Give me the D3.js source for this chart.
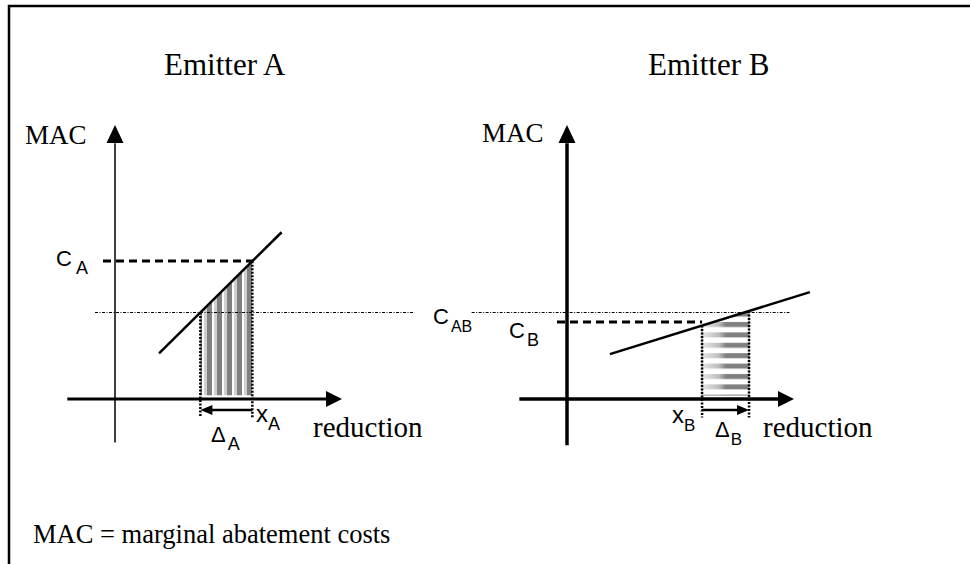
<!DOCTYPE html>
<html>
<head>
<meta charset="utf-8">
<script src="https://cdn.jsdelivr.net/npm/d3@7"></script>
<style>
body { margin: 0; background: #fff; }
</style>
</head>
<body>
<svg id="chart" width="970" height="564"></svg>
<script>
// values in abstract units (0..100 on both axes of each panel)
const panelNames = ["A", "B"];
const titles = ["Emitter A", "Emitter B"];
const xAxisExtent = [[-21, 100], [-21, 100]];
const yAxisExtent = [[-16, 100], [-17, 100]];
const macLines = [
    [[19.4, 16.8], [73.4, 61.3]],
    [[18.9, 16.5], [107, 39.3]]
];
const priceCommon = 31.8;          // C_AB
const priceOwn = [50.7, 28.3];     // C_A , C_B
const xPoints = [60.5, 59.5];      // x_A , x_B
const xShifted = [37.6, 80.2];     // x_A - delta_A , x_B + delta_B
const commonLine = [[-8.8, 132], [-42, 98]];
const ownDashStart = [-5.3, -4.4];

const serif = "'Liberation Serif', 'Times New Roman', serif";
const sans = "'Liberation Sans', Arial, sans-serif";

const svg = d3.select("#chart");
const defs = svg.append("defs");

// frame
svg.append("path")
    .attr("d", "M9,564 V6 H970")
    .attr("fill", "none")
    .attr("stroke", "#000")
    .attr("stroke-width", 2.5);

// stripe patterns
let pA = defs.append("pattern").attr("id", "stripesA")
    .attr("patternUnits", "userSpaceOnUse")
    .attr("x", 204).attr("y", 0).attr("width", 10).attr("height", 10);
pA.append("rect").attr("width", 10).attr("height", 10).attr("fill", "#fff");
pA.append("rect").attr("x", 0).attr("width", 3).attr("height", 10).attr("fill", "#d0d0d0");
pA.append("rect").attr("x", 3).attr("width", 5).attr("height", 10).attr("fill", "#808080");

let gB = defs.append("linearGradient").attr("id", "gradB")
    .attr("x1", 0).attr("x2", 1).attr("y1", 0).attr("y2", 0);
gB.append("stop").attr("offset", 0).attr("stop-color", "#e6e6e6");
gB.append("stop").attr("offset", 0.35).attr("stop-color", "#bdbdbd");
gB.append("stop").attr("offset", 0.5).attr("stop-color", "#808080");
gB.append("stop").attr("offset", 1).attr("stop-color", "#808080");

let pB = defs.append("pattern").attr("id", "stripesB")
    .attr("patternUnits", "userSpaceOnUse")
    .attr("x", 702).attr("y", 321).attr("width", 48).attr("height", 10.4);
pB.append("rect").attr("width", 48).attr("height", 10.4).attr("fill", "#fff");
pB.append("rect").attr("y", 1).attr("width", 48).attr("height", 5).attr("fill", "url(#gradB)");

function label(g, x, y, main, sub, size, subSize, font, gap) {
    let t = g.append("text").attr("x", x).attr("y", y)
        .attr("font-family", font).attr("font-size", size).attr("fill", "#000");
    t.append("tspan").text(main);
    if (sub) {
        t.append("tspan").attr("dx", gap || 0).attr("dy", 8).attr("font-size", subSize).text(sub);
    }
    return t;
}

const origins = [115, 567];
const axisW = [[3, 1.5], [3.5, 3.5]];

panelNames.forEach(function(name, i) {
    let x = d3.scaleLinear().domain([0, 100]).range([origins[i], origins[i] + 227]);
    let y = d3.scaleLinear().domain([0, 100]).range([399, 127]);
    let g = svg.append("g");
    let line = d3.line().x(d => x(d[0])).y(d => y(d[1]));

    // title
    g.append("text")
        .attr("x", x(0) + (i == 0 ? 49 : 81)).attr("y", 75)
        .attr("font-family", serif).attr("font-size", 31)
        .text(titles[i]);

    // shaded region under MAC line between xShifted and xPoints
    let m = macLines[i];
    let macAt = v => m[0][1] + (v - m[0][0]) * (m[1][1] - m[0][1]) / (m[1][0] - m[0][0]);
    let lo = Math.min(xPoints[i], xShifted[i]), hi = Math.max(xPoints[i], xShifted[i]);
    let bottom = 1.4;
    g.append("path")
        .attr("d", line([[lo, bottom], [lo, macAt(lo)], [hi, macAt(hi)], [hi, bottom]]) + "Z")
        .attr("fill", i == 0 ? "url(#stripesA)" : "url(#stripesB)")
        .attr("stroke", i == 0 ? "none" : "#9a9a9a")
        .attr("stroke-width", 1);

    // common price line C_AB (dash-dot, thin)
    g.append("path")
        .attr("d", line([[commonLine[i][0], priceCommon], [commonLine[i][1], priceCommon]]))
        .attr("stroke", "#000").attr("stroke-width", 1)
        .attr("stroke-dasharray", "3,1.5,1,1.5");

    // own price dashed line
    g.append("path")
        .attr("d", line([[ownDashStart[i], priceOwn[i]], [xPoints[i], priceOwn[i]]]))
        .attr("stroke", "#000").attr("stroke-width", 3)
        .attr("stroke-dasharray", "8,5");

    // dotted borders of the region
    [lo, hi].forEach(function(v) {
        g.append("path")
            .attr("d", line([[v, macAt(v)], [v, -6.8]]))
            .attr("stroke", "#000").attr("stroke-width", 2.5)
            .attr("stroke-dasharray", "2,1.5");
    });

    // axes
    g.append("path")
        .attr("d", line([[xAxisExtent[i][0], 0], [93, 0]]))
        .attr("stroke", "#000").attr("stroke-width", axisW[i][0]);
    g.append("path")
        .attr("d", `M${x(100)},${y(0)} L${x(100) - 16},${y(0) - 8} L${x(100) - 16},${y(0) + 8}Z`)
        .attr("fill", "#000");
    g.append("path")
        .attr("d", line([[0, yAxisExtent[i][0]], [0, 94]]))
        .attr("stroke", "#000").attr("stroke-width", axisW[i][1]);
    g.append("path")
        .attr("d", `M${x(0)},${y(100) - 2} L${x(0) - 8.5},${y(100) + 16} L${x(0) + 8.5},${y(100) + 16}Z`)
        .attr("fill", "#000");

    // MAC line
    g.append("path")
        .attr("d", line(m))
        .attr("stroke", "#000").attr("stroke-width", 2.5);

    // delta arrow under the axis
    let ay = y(-4);
    let x0 = x(xPoints[i]), x1 = x(xShifted[i]);
    let dir = x1 > x0 ? 1 : -1;
    g.append("path")
        .attr("d", `M${x0},${ay} L${x1 - dir * 8},${ay}`)
        .attr("stroke", "#000").attr("stroke-width", 2.5);
    g.append("path")
        .attr("d", `M${x1},${ay} L${x1 - dir * 12},${ay - 5} L${x1 - dir * 12},${ay + 5}Z`)
        .attr("fill", "#000");

    // axis titles
    g.append("text")
        .attr("x", x(0) - (i == 0 ? 90 : 85)).attr("y", i == 0 ? 144 : 142)
        .attr("font-family", serif).attr("font-size", 27)
        .text("MAC");
    g.append("text")
        .attr("x", x(100) + (i == 0 ? -29 : -31)).attr("y", 437)
        .attr("font-family", serif).attr("font-size", 29)
        .text("reduction");
});

// symbol labels
let lab = svg.append("g");
label(lab, 56, 266, "C", "A", 22, 18, sans, 4);
label(lab, 433, 324, "C", "AB", 22, 16, sans, 2);
label(lab, 509, 338, "C", "B", 22, 18, sans, 2);
label(lab, 256, 422, "x", "A", 24, 18, sans, 0);
label(lab, 672, 423, "x", "B", 24, 17, sans, 0);
label(lab, 211, 442, "\u0394", "A", 22, 18, sans, 2);
label(lab, 715, 437, "\u0394", "B", 22, 17, sans, 1);

// footnote
svg.append("text")
    .attr("x", 33).attr("y", 543)
    .attr("font-family", serif).attr("font-size", 26.5)
    .text("MAC = marginal abatement costs");
</script>
</body>
</html>
